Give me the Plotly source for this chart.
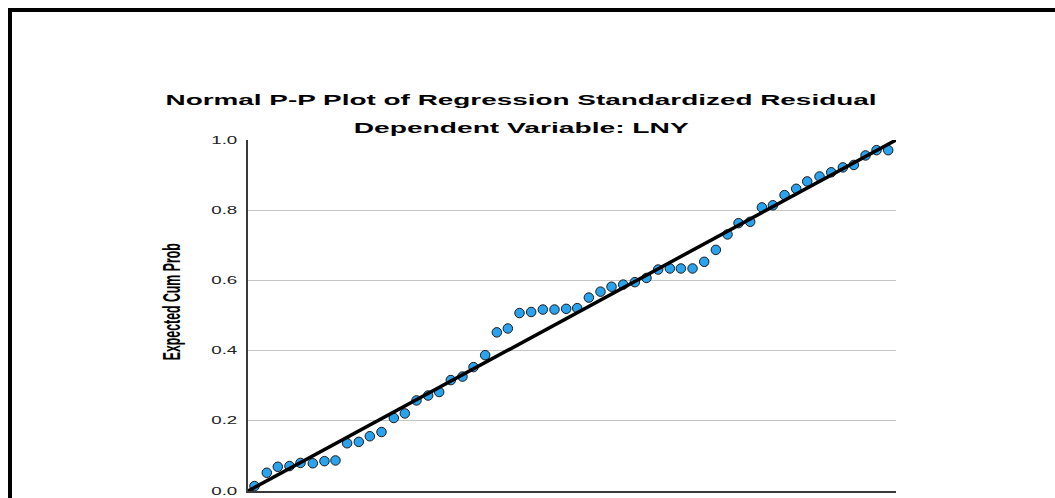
import plotly.graph_objects as go

observed_cum_prob = [0.010, 0.029, 0.046, 0.064, 0.081, 0.100, 0.118, 0.135, 0.153, 0.171,
                     0.188, 0.206, 0.225, 0.242, 0.260, 0.278, 0.295, 0.313, 0.331, 0.348,
                     0.366, 0.384, 0.401, 0.419, 0.437, 0.455, 0.473, 0.491, 0.508, 0.526,
                     0.544, 0.561, 0.579, 0.597, 0.615, 0.633, 0.651, 0.668, 0.686, 0.704,
                     0.722, 0.740, 0.757, 0.775, 0.793, 0.810, 0.828, 0.846, 0.863, 0.882,
                     0.900, 0.918, 0.935, 0.953, 0.970, 0.988]
expected_cum_prob = [0.014, 0.052, 0.069, 0.071, 0.080, 0.079, 0.085, 0.087, 0.136, 0.140,
                     0.156, 0.168, 0.208, 0.221, 0.258, 0.272, 0.282, 0.316, 0.326, 0.353,
                     0.387, 0.452, 0.463, 0.507, 0.510, 0.517, 0.517, 0.519, 0.521, 0.551,
                     0.568, 0.582, 0.588, 0.595, 0.607, 0.631, 0.634, 0.634, 0.634, 0.653,
                     0.687, 0.731, 0.763, 0.767, 0.808, 0.814, 0.843, 0.861, 0.882, 0.896,
                     0.908, 0.922, 0.929, 0.956, 0.971, 0.971]

# Reference diagonal
diag_x = [0.0, 1.0]
diag_y = [0.0, 1.0]

y_tick_vals = [0.0, 0.2, 0.4, 0.6, 0.8, 1.0]
y_tick_text = ["0.0", "0.2", "0.4", "0.6", "0.8", "1.0"]

title_text = "Normal P-P Plot of Regression Standardized Residual"
subtitle_text = "Dependent Variable: LNY"
y_title = "Expected Cum Prob"

W, H = 1055, 498
L, R, T, B = 248, 1055 - 896, 140, 7
PW, PH = W - L - R, H - T - B

fig = go.Figure()

fig.add_trace(go.Scatter(
    x=observed_cum_prob, y=expected_cum_prob, mode="markers",
    marker=dict(symbol="circle", size=9.5, color="#2aa3ef",
                line=dict(color="#1a1a1a", width=1)),
    hoverinfo="x+y", showlegend=False, cliponaxis=False,
))

fig.add_trace(go.Scatter(
    x=diag_x, y=diag_y, mode="lines",
    line=dict(color="#000000", width=3.5),
    hoverinfo="skip", showlegend=False, cliponaxis=False,
))

title_font = dict(family="Liberation Sans, Arial, sans-serif", size=15, color="#000000", weight="bold")

fig.update_layout(
    width=W, height=H,
    margin=dict(l=L, r=R, t=T, b=B, autoexpand=False),
    paper_bgcolor="#ffffff", plot_bgcolor="#ffffff",
    title=dict(text=title_text, x=521 / W, xref="container", xanchor="center",
               y=1 - 100 / H, yref="container", yanchor="middle", font=title_font),
    xaxis=dict(range=[0, 1], showgrid=False, zeroline=False,
               showline=True, linecolor="#3a3a3a", linewidth=1.5,
               showticklabels=False, ticks=""),
    yaxis=dict(range=[0, 1], tickvals=y_tick_vals, ticktext=y_tick_text,
               showgrid=True, gridcolor="#c4c4c4", gridwidth=1,
               zeroline=False, showline=True, linecolor="#3a3a3a", linewidth=1.5,
               ticks="", ticklabelstandoff=7,
               tickfont=dict(family="Liberation Sans, Arial, sans-serif", size=10, color="#222222")),
    annotations=[
        dict(text=subtitle_text, xref="paper", yref="paper",
             x=(521 - L) / PW, y=1 + (T - 128) / PH,
             xanchor="center", yanchor="middle", showarrow=False, font=title_font),
        dict(text=y_title, xref="paper", yref="paper", textangle=-90,
             x=(172 - L) / PW, y=(H - B - 302) / PH,
             xanchor="center", yanchor="middle", showarrow=False,
             font=dict(family="Liberation Sans, Arial, sans-serif",
                       size=23, color="#000000", weight="bold")),
    ],
    shapes=[
        dict(type="line", xref="paper", yref="paper", layer="above",
             x0=-(L - 8) / PW, x1=(W - L + 5) / PW,
             y0=1 + (T - 10) / PH, y1=1 + (T - 10) / PH,
             line=dict(color="#000000", width=4)),
        dict(type="line", xref="paper", yref="paper", layer="above",
             x0=-(L - 10) / PW, x1=-(L - 10) / PW,
             y0=1 + (T - 8) / PH, y1=-(B + 10) / PH,
             line=dict(color="#000000", width=4)),
    ],
)

# The reference renders its texts horizontally stretched; reproduce that with SVG textLength
post_script = """
document.body.style.margin = '0';
var gd = document.getElementById('{plot_id}');
function stretch(e, len) {
  e.setAttribute('textLength', len);
  e.setAttribute('lengthAdjust', 'spacingAndGlyphs');
}
function stretchTexts() {
  gd.querySelectorAll('.gtitle').forEach(function(e){ stretch(e, 711); });
  gd.querySelectorAll('.annotation-text').forEach(function(e){
    if (e.textContent.indexOf('Dependent') === 0) { stretch(e, 335); }
    else { stretch(e, 117); }
  });
  gd.querySelectorAll('.ytick text').forEach(function(e){ stretch(e, 26); });
}
stretchTexts();
gd.on('plotly_afterplot', stretchTexts);
"""

fig.write_html("out.html", post_script=post_script, config={"displayModeBar": False})
